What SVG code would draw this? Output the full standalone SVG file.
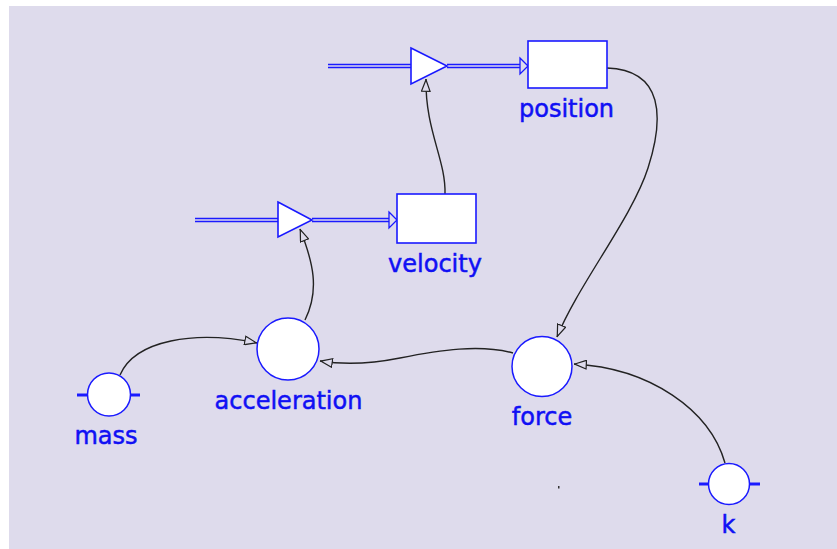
<svg xmlns="http://www.w3.org/2000/svg" width="837" height="549" viewBox="0 0 837 549">
<style>
.bg{fill:#dedbec}
.stock{fill:#fff;stroke:#1a1aff;stroke-width:1.6}
.aux{fill:#fff;stroke:#1a1aff;stroke-width:1.5}
.tick{stroke:#1a1aff;stroke-width:3}
.pipe{stroke:#1a1aff;stroke-width:1.4;fill:none}
.valve{fill:#fff;stroke:#1a1aff;stroke-width:1.6}
.flowhead{fill:#dedbec;stroke:#1a1aff;stroke-width:1.3}
.link{fill:none;stroke:#222;stroke-width:1.4}
.lbl{font-family:"DejaVu Sans",sans-serif;font-size:24px;fill:#1010f4;stroke:#1010f4;stroke-width:0.5;text-anchor:middle}
</style>
<defs>
<marker id="ah" viewBox="0 0 13 10" refX="13" refY="5" markerWidth="13" markerHeight="10" markerUnits="userSpaceOnUse" orient="auto">
<path d="M0.7,0.7 L12.3,5 L0.7,9.3 Z" fill="#dedbec" stroke="#222" stroke-width="1.2"/>
</marker>
</defs>
<rect x="0" y="0" width="837" height="549" fill="#fff"/>
<rect class="bg" x="9" y="6" width="828" height="543"/>

<g id="connectors">
<path class="link" d="M445,194 C446,160 425,130 426,79" marker-end="url(#ah)"/>
<path class="link" d="M607,68 C664,70 664,118 648,168 C632,218 578,285 557,337" marker-end="url(#ah)"/>
<path class="link" d="M305,320 C320,290 313,262 300,229" marker-end="url(#ah)"/>
<path class="link" d="M120,375 C135,340 195,330 257,343" marker-end="url(#ah)"/>
<path class="link" d="M513,353 C480,344 440,350 400,358 C370,364 345,365 320,361" marker-end="url(#ah)"/>
<path class="link" d="M725,463 C710,410 650,368 574,364" marker-end="url(#ah)"/>
</g>

<g id="flow-position">
<line class="pipe" x1="328" y1="64.5" x2="411" y2="64.5"/>
<line class="pipe" x1="328" y1="67.5" x2="411" y2="67.5"/>
<line class="pipe" x1="447" y1="64.5" x2="521" y2="64.5"/>
<line class="pipe" x1="447" y1="67.5" x2="521" y2="67.5"/>
<polygon class="flowhead" points="520,58 528,66 520,74"/>
<polygon class="valve" points="411,48 447,66 411,84"/>
</g>

<g id="flow-velocity">
<line class="pipe" x1="195" y1="218.5" x2="278" y2="218.5"/>
<line class="pipe" x1="195" y1="221.5" x2="278" y2="221.5"/>
<line class="pipe" x1="312" y1="218.5" x2="390" y2="218.5"/>
<line class="pipe" x1="312" y1="221.5" x2="390" y2="221.5"/>
<polygon class="flowhead" points="389,212 397,220 389,228"/>
<polygon class="valve" points="278,202 312,220 278,237"/>
</g>

<g id="position">
<rect class="stock" x="528" y="41" width="79" height="47"/>
<text class="lbl" x="566.5" y="117">position</text>
</g>

<g id="velocity">
<rect class="stock" x="397" y="194" width="79" height="49"/>
<text class="lbl" x="435" y="272">velocity</text>
</g>

<g id="acceleration">
<circle class="aux" cx="288" cy="349" r="31"/>
<text class="lbl" x="288.5" y="409">acceleration</text>
</g>

<g id="force">
<circle class="aux" cx="542" cy="366.5" r="30"/>
<text class="lbl" x="542" y="425">force</text>
</g>

<g id="mass">
<line class="tick" x1="77" y1="395" x2="88" y2="395"/>
<line class="tick" x1="130" y1="395" x2="140" y2="395"/>
<circle class="aux" cx="109" cy="394.5" r="21.5"/>
<text class="lbl" x="106" y="444">mass</text>
</g>

<g id="k">
<line class="tick" x1="699" y1="484" x2="709" y2="484"/>
<line class="tick" x1="749" y1="484" x2="760" y2="484"/>
<circle class="aux" cx="729" cy="484" r="20.5"/>
<text class="lbl" x="728.5" y="533">k</text>
</g>

<rect x="558" y="486" width="1.5" height="2.5" fill="#333"/>
</svg>
